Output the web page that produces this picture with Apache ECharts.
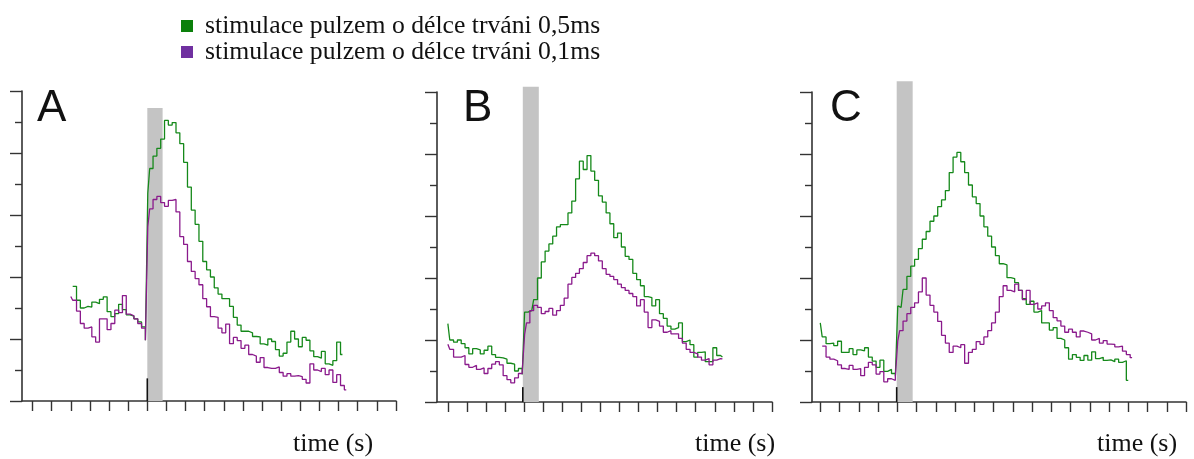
<!DOCTYPE html>
<html>
<head>
<meta charset="utf-8">
<title>stimulace</title>
<script src="https://cdn.jsdelivr.net/npm/echarts@6/dist/echarts.min.js"></script>
<style>
  html, body { margin: 0; padding: 0; background: #fff; }
  #chart { width: 1194px; height: 459px; }
</style>
</head>
<body>
<div id="chart"></div>
<script>
var seriesNames = ['stimulace pulzem o délce trváni 0,5ms', 'stimulace pulzem o délce trváni 0,1ms']
var panelLetters = ['A', 'B', 'C']
var axisTitle = 'time (s)'

// time in tick units, 0 = pulse onset
var time = [
  -4.0, -3.8, -3.6, -3.4, -3.2, -3.0, -2.8, -2.6, -2.4, -2.2,
  -2.0, -1.8, -1.6, -1.4, -1.2, -1.0, -0.8, -0.6, -0.4, -0.2,
  0, 0.05,
  0.2, 0.4, 0.6, 0.8, 1.0, 1.2, 1.4, 1.6, 1.8, 2.0,
  2.2, 2.4, 2.6, 2.8, 3.0, 3.2, 3.4, 3.6, 3.8, 4.0,
  4.2, 4.4, 4.6, 4.8, 5.0, 5.2, 5.4, 5.6, 5.8, 6.0,
  6.2, 6.4, 6.6, 6.8, 7.0, 7.2, 7.4, 7.6, 7.8, 8.0,
  8.2, 8.4, 8.6, 8.8, 9.0, 9.2, 9.4, 9.6, 9.8, 10.0,
  10.2, 10.4, 10.6, 10.8, 11.0, 11.2, 11.4, 11.6, 11.8, 12.0,
  12.2
]

var greenA = [
  null, 3.7, 3.25, 3.0, 3.05, 3.03, 3.19, 3.14, 3.28, 3.36,
  2.88, 2.72, 2.82, 3.12, 2.95, 2.78, 2.74, 2.65, 2.55, 2.39,
  1.96, 6.7,
  7.5, 7.9, 8.15, 8.45, 9.05, 8.9, 8.98, 8.65, 8.3, 7.7,
  6.9, 6.16, 5.7, 5.15, 4.5, 4.23, 4.0, 3.65, 3.45, 3.3,
  3.3, 3.05, 2.7, 2.45, 2.25, 2.25, 2.2, 2.08, 2.07, 1.84,
  1.8, 2.0, 1.92, 1.66, 1.45, 1.54, 1.9, 2.25, 2.0, 1.75,
  2.05, 1.96, 1.62, 1.43, 1.38, 1.6, 1.2, 1.15, 1.3, 1.9,
  1.5
]
var purpleA = [
  3.37, 3.25, 2.9, 2.5, 2.35, 2.39, 2.07, 1.9, 2.65, 2.65,
  2.3, 2.5, 2.93, 2.85, 3.4, 2.8, 2.75, 2.65, 2.5, 2.35,
  1.96, 5.62,
  6.2, 6.5, 6.6, 6.4, 6.28, 6.47, 6.5, 6.1, 5.3, 5.05,
  4.5, 4.18, 3.95, 3.75, 3.3, 3.04, 2.72, 2.7, 2.35, 2.2,
  2.48, 1.85, 2.05, 1.95, 1.7, 1.8, 1.5, 1.45, 1.25, 1.4,
  1.08, 1.05, 1.05, 1.1, 0.92, 0.8, 0.88, 0.8, 0.82, 0.79,
  0.7, 0.58, 1.2, 1.0, 0.95, 1.05, 0.85, 1.0, 0.6, 0.85,
  0.5, 0.36
]

var greenB = [
  2.53, 2.0, 1.93, 2.0, 1.88, 1.75, 1.55, 1.72, 1.68, 1.55,
  1.67, 1.8, 1.53, 1.44, 1.42, 1.38, 1.25, 1.22, 1.0, 1.08,
  0.89, 2.9,
  2.9, 2.95, 3.3, 4.0, 4.52, 4.87, 5.1, 5.35, 5.65, 5.72,
  5.72, 6.1, 6.48, 7.2, 7.77, 7.5, 7.95, 7.45, 7.15, 6.65,
  6.45, 6.1, 5.75, 5.3, 5.45, 5.0, 4.7, 4.6, 4.15, 3.95,
  3.75, 3.4, 3.37, 3.1, 3.3, 2.85, 2.7, 2.45, 2.35, 2.4,
  2.55, 1.95, 2.0, 1.85, 1.45, 1.6, 1.62, 1.3, 1.3, 1.75,
  1.5, 1.45
]
var purpleB = [
  1.86, 1.7, 1.45, 1.45, 1.5, 1.21, 1.12, 1.18, 1.05, 1.1,
  0.92, 1.08, 1.22, 1.3, 1.2, 0.85, 0.72, 0.62, 0.78, 0.92,
  0.99, 2.18,
  2.55, 2.95, 3.12, 3.05, 2.85, 2.92, 3.02, 2.8, 2.95, 3.12,
  3.35, 3.8, 4.02, 4.15, 4.3, 4.5, 4.72, 4.8, 4.72, 4.55,
  4.3, 4.12, 4.05, 3.95, 3.8, 3.69, 3.6, 3.5, 3.4, 3.1,
  3.3, 2.9, 2.4, 2.65, 2.6, 2.45, 2.25, 2.3, 2.2, 2.2,
  2.05, 1.9, 1.7, 1.6, 1.55, 1.45, 1.35, 1.4, 1.2, 1.35,
  1.4, 1.39
]

var greenC = [
  2.55, 2.1, 1.88, 1.9, 1.82, 1.96, 1.6, 1.6, 1.72, 1.53,
  1.68, 1.65, 1.75, 1.45, 1.32, 1.12, 1.35, 0.99, 1.05, 0.92,
  0.83, 3.1,
  3.05, 3.63, 4.05, 4.38, 4.6, 4.95, 5.25, 5.5, 5.83, 6.0,
  6.3, 6.52, 6.82, 7.4, 7.9, 8.05, 7.75, 7.4, 7.0, 6.62,
  6.4, 6.0, 5.65, 5.35, 5.0, 4.72, 4.46, 4.42, 4.01, 3.98,
  3.85, 3.6, 3.33, 3.15, 3.25, 2.9, 2.95, 2.55, 2.55, 2.32,
  2.4, 2.05, 2.0, 1.75, 1.38, 1.53, 1.44, 1.34, 1.5, 1.35,
  1.62, 1.4, 1.44, 1.34, 1.36, 1.3, 1.38, 1.28, 1.33, 0.7
]
var purpleC = [
  null, 1.8, 1.45, 1.38, 1.33, 1.2, 1.08, 1.05, 1.18, 1.05,
  1.08, 0.85, 1.12, 1.28, 1.2, 0.9, 0.98, 0.65, 0.75, 0.7,
  0.83, 1.97,
  2.3, 2.61, 2.85, 3.05, 3.2, 3.55, 4.0, 3.45, 3.12, 2.9,
  2.6, 2.15, 1.9, 1.6, 1.8, 1.75, 1.85, 1.25, 1.6, 1.7,
  1.95, 1.86, 2.1, 2.3, 2.55, 2.9, 3.4, 3.75, 3.6, 3.55,
  3.8, 3.6, 3.3, 3.6, 3.15, 3.2, 3.0, 3.1, 3.2, 2.95,
  2.72, 2.62, 2.45, 2.25, 2.35, 2.25, 2.1, 2.29, 2.25, 2.2,
  2.0, 2.05, 1.9, 1.98, 1.87, 1.86, 1.78, 1.8, 1.64, 1.53,
  1.43
]

// pulse: [start, end, grey bar top, onset mark top]
var pulseA = [0, 0.8, 9.45, 0.73]
var pulseB = [-0.07, 0.77, 10.17, 0.48]
var pulseC = [-0.03, 0.8, 10.35, 0.48]

var ticksA = [-6, -5, -4, -3, -2, -1, 0, 1, 2, 3, 4, 5, 6, 7, 8, 9, 10, 11, 12, 13]
var ticksB = [-4, -3, -2, -1, 0, 1, 2, 3, 4, 5, 6, 7, 8, 9, 10, 11, 12, 13]
var ticksC = [-4, -3, -2, -1, 0, 1, 2, 3, 4, 5, 6, 7, 8, 9, 10, 11, 12, 13, 14, 15]

var GREEN = '#15891a'
var PURPLE = '#8a1a8c'
var AXIS = '#333'

var panels = [
  { green: greenA, purple: purpleA, pulse: pulseA, ticks: ticksA, min: -6.55, max: 13, left: 22, top: 91, width: 374, letterX: 37, titleX: 293 },
  { green: greenB, purple: purpleB, pulse: pulseB, ticks: ticksB, min: -4.57, max: 13, left: 437, top: 92, width: 335, letterX: 463, titleX: 695 },
  { green: greenC, purple: purpleC, pulse: pulseC, ticks: ticksC, min: -4.43, max: 15, left: 812, top: 92, width: 374, letterX: 830, titleX: 1097 }
]

function pairs(values) {
  return values.map(function(v, i) { return [time[i], v] })
}

function renderPulse(params, api) {
  var base = api.coord([api.value(0), 0])
  var corner = api.coord([api.value(1), api.value(2)])
  var mark = api.coord([api.value(0), api.value(3)])
  return {
    type: 'group',
    children: [
      {
        type: 'rect',
        shape: { x: base[0], y: corner[1], width: corner[0] - base[0], height: base[1] - corner[1] },
        style: { fill: '#c4c4c4' }
      },
      {
        type: 'line',
        shape: { x1: base[0], y1: base[1], x2: base[0], y2: mark[1] },
        style: { stroke: '#111', lineWidth: 1.6 }
      }
    ]
  }
}

var grids = []
var xAxes = []
var yAxes = []
var series = []
var graphics = []

panels.forEach(function(p, i) {
  grids.push({ left: p.left, top: p.top, width: p.width, height: 310 })
  xAxes.push({
    type: 'value',
    gridIndex: i,
    min: p.min,
    max: p.max,
    axisLine: { show: true, onZero: false, lineStyle: { color: AXIS, width: 1.6 } },
    axisTick: { show: true, customValues: p.ticks, length: 10, lineStyle: { color: AXIS, width: 1.4 } },
    axisLabel: { show: false },
    splitLine: { show: false }
  })
  yAxes.push({
    type: 'value',
    gridIndex: i,
    min: 0,
    max: 10,
    interval: 2,
    axisLine: { show: true, onZero: false, lineStyle: { color: AXIS, width: 1.6 } },
    axisTick: { show: true, length: 12, lineStyle: { color: AXIS, width: 1.4 } },
    minorTick: { show: true, splitNumber: 2, length: 7, lineStyle: { color: AXIS, width: 1.4 } },
    axisLabel: { show: false },
    splitLine: { show: false },
    minorSplitLine: { show: false }
  })
  series.push({
    type: 'custom',
    xAxisIndex: i,
    yAxisIndex: i,
    renderItem: renderPulse,
    data: [p.pulse],
    silent: true,
    z: 1
  })
  series.push({
    name: seriesNames[0],
    type: 'line',
    step: 'middle',
    xAxisIndex: i,
    yAxisIndex: i,
    data: pairs(p.green),
    showSymbol: false,
    lineStyle: { color: GREEN, width: 1.3 },
    itemStyle: { color: GREEN },
    z: 2
  })
  series.push({
    name: seriesNames[1],
    type: 'line',
    step: 'middle',
    xAxisIndex: i,
    yAxisIndex: i,
    data: pairs(p.purple),
    showSymbol: false,
    lineStyle: { color: PURPLE, width: 1.3 },
    itemStyle: { color: PURPLE },
    z: 3
  })
  graphics.push({
    type: 'text',
    x: p.letterX,
    y: 109,
    style: { text: panelLetters[i], font: '44px "Liberation Sans"', fill: '#111', verticalAlign: 'middle' }
  })
  graphics.push({
    type: 'text',
    x: p.titleX,
    y: 444,
    style: { text: axisTitle, font: '26px "Liberation Serif"', fill: '#111', verticalAlign: 'middle' }
  })
})

var chart = echarts.init(document.getElementById('chart'))
chart.setOption({
  animation: false,
  backgroundColor: '#fff',
  legend: {
    orient: 'vertical',
    left: 181,
    top: 13,
    padding: 0,
    icon: 'rect',
    itemWidth: 12,
    itemHeight: 12,
    itemGap: 0,
    selectedMode: false,
    textStyle: { fontFamily: 'Liberation Serif', fontSize: 25.7, lineHeight: 25, color: '#111', padding: [0, 0, 0, 7] },
    data: [
      { name: seriesNames[0], itemStyle: { color: '#0b800b' } },
      { name: seriesNames[1], itemStyle: { color: '#7030a0' } }
    ]
  },
  grid: grids,
  xAxis: xAxes,
  yAxis: yAxes,
  series: series,
  graphic: graphics
})
</script>
</body>
</html>
